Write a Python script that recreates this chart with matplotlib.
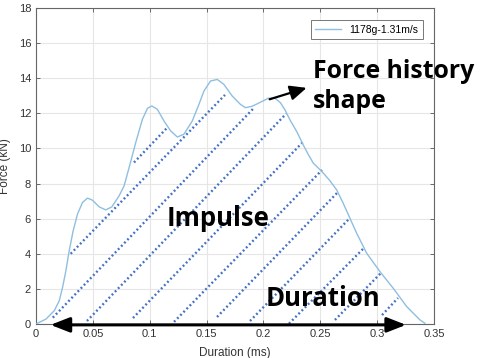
import matplotlib
matplotlib.use("Agg")
import matplotlib.pyplot as plt
from matplotlib import font_manager

# force history
t_ms = [0, 0.0088, 0.0161, 0.0205, 0.0234, 0.0263, 0.0292, 0.0327, 0.0365, 0.0409,
        0.0453, 0.0497, 0.0556, 0.0614, 0.0667, 0.0731, 0.0775, 0.0819, 0.0877,
        0.0936, 0.0980, 0.1018, 0.1067, 0.1126, 0.1184, 0.1243, 0.1301, 0.1374,
        0.1433, 0.1477, 0.1535, 0.1594, 0.1652, 0.1725, 0.1798, 0.1842, 0.1900,
        0.1970, 0.2043, 0.2102, 0.2150, 0.2190, 0.2234, 0.2293, 0.2350, 0.2395,
        0.2439, 0.2480, 0.2527, 0.2580, 0.2644, 0.2700, 0.2761, 0.2820, 0.2908,
        0.3025, 0.3142, 0.3260, 0.3377, 0.3420]
force_kN = [0, 0.28, 0.76, 1.33, 2.09, 3.03, 4.17, 5.31, 6.26, 6.92,
            7.17, 7.05, 6.67, 6.50, 6.67, 7.30, 7.87, 8.91, 10.33,
            11.66, 12.28, 12.42, 12.23, 11.56, 11.00, 10.65, 10.81, 11.56,
            12.51, 13.27, 13.84, 13.93, 13.65, 12.99, 12.51, 12.32, 12.40,
            12.62, 12.86, 12.86, 12.60, 12.19, 11.62, 10.96, 10.20, 9.65,
            9.16, 8.90, 8.59, 8.20, 7.64, 6.90, 6.02, 5.17, 4.03,
            2.98, 2.03, 0.99, 0.23, 0.04]
series_label = "1178g-1.31m/s"

# dotted hatch lines (start / end points, data units)
hatch_t0 = [0.0862, 0.0305, 0.0148, 0.0448, 0.0853, 0.1214, 0.1592, 0.1882, 0.2225, 0.2629, 0.3043]
hatch_f0 = [9.20, 4.00, 0.36, 0.17, 0.34, 0.12, 0.40, 0.17, 0.02, 0.23, 0.51]
hatch_t1 = [0.1161, 0.1662, 0.1908, 0.2199, 0.2357, 0.2515, 0.2656, 0.2761, 0.2884, 0.3034, 0.3183]
hatch_f1 = [11.23, 13.05, 12.25, 11.97, 10.43, 8.77, 7.52, 6.04, 4.33, 2.91, 1.48]

xticks = [0, 0.05, 0.1, 0.15, 0.2, 0.25, 0.3, 0.35]
xtick_labels = ["0", "0.05", "0.1", "0.15", "0.2", "0.25", "0.3", "0.35"]
yticks = list(range(0, 19, 2))

plt.rcParams['font.family'] = ['Liberation Sans', 'DejaVu Sans']


def bold_family():
    # first candidate that really has a bold face installed
    for name in ['Open Sans', 'Noto Sans', 'Roboto', 'Lato', 'Liberation Sans']:
        for f in font_manager.fontManager.ttflist:
            if f.name == name and f.weight in (600, 700, 'bold', 'semibold', 'demibold'):
                return name
    return 'DejaVu Sans'


bfam = bold_family()

fig = plt.figure(figsize=(4.81, 3.58), dpi=100)
ax = fig.add_axes([0.0748, 0.095, 0.8275, 0.8827])

ax.plot(t_ms, force_kN, color='#8fbfe0', lw=1.0, label=series_label, zorder=3)

for a, b, c, d in zip(hatch_t0, hatch_f0, hatch_t1, hatch_f1):
    ax.plot([a, c], [b, d], color='#4472c4', lw=1.7, linestyle=(0, (0.8, 1.1)),
            zorder=2)

ax.set_xlim(0, 0.35)
ax.set_ylim(0, 18)
ax.set_xticks(xticks)
ax.set_xticklabels(xtick_labels)
ax.set_yticks(yticks)
ax.grid(True, color='#e6e6e6', lw=0.8)
ax.set_axisbelow(True)
ax.tick_params(direction='in', length=3, width=0.6, colors='#555555',
               labelcolor='#333333', labelsize=8, top=True, right=True)
for s in ax.spines.values():
    s.set_color('#666666')
    s.set_linewidth(0.8)

ax.set_xlabel("Duration (ms)", fontsize=8.5, color='#333333')
ax.set_ylabel("Force (kN)", fontsize=8.5, color='#333333')
ax.xaxis.set_label_coords(0.5, -0.073)
ax.yaxis.set_label_coords(-0.063, 0.5)

leg = ax.legend(loc='upper right', bbox_to_anchor=(0.973, 0.962), borderaxespad=0,
                fontsize=7.5, handlelength=2.5, fancybox=False, framealpha=1,
                edgecolor='#777777', borderpad=0.45)
leg.get_frame().set_linewidth(0.7)

# annotations
bold = dict(family=[bfam, 'DejaVu Sans'], fontweight='bold', color='black')
ax.text(0.2438, 12.31, "Force history\nshape", fontsize=17.8, ha='left', va='baseline',
        linespacing=1.25, clip_on=False, **bold)
ax.text(0.1600, 5.58, "Impulse", fontsize=18.5, ha='center', va='baseline', **bold)
ax.text(0.2524, 1.03, "Duration", fontsize=18.5, ha='center', va='baseline', **bold)

ax.annotate('', xy=(0.2380, 13.45), xytext=(0.2055, 12.8),
            arrowprops=dict(arrowstyle='-|>,head_length=1.0,head_width=0.45',
                            mutation_scale=10, color='black', lw=1.6,
                            shrinkA=0, shrinkB=0))
ax.annotate('', xy=(0.0128, -0.05), xytext=(0.3254, -0.05),
            arrowprops=dict(arrowstyle='<|-|>,head_length=1.15,head_width=0.45',
                            mutation_scale=10, color='black', lw=2.2,
                            shrinkA=0, shrinkB=0),
            annotation_clip=False)

fig.savefig('out.png', dpi=100)
